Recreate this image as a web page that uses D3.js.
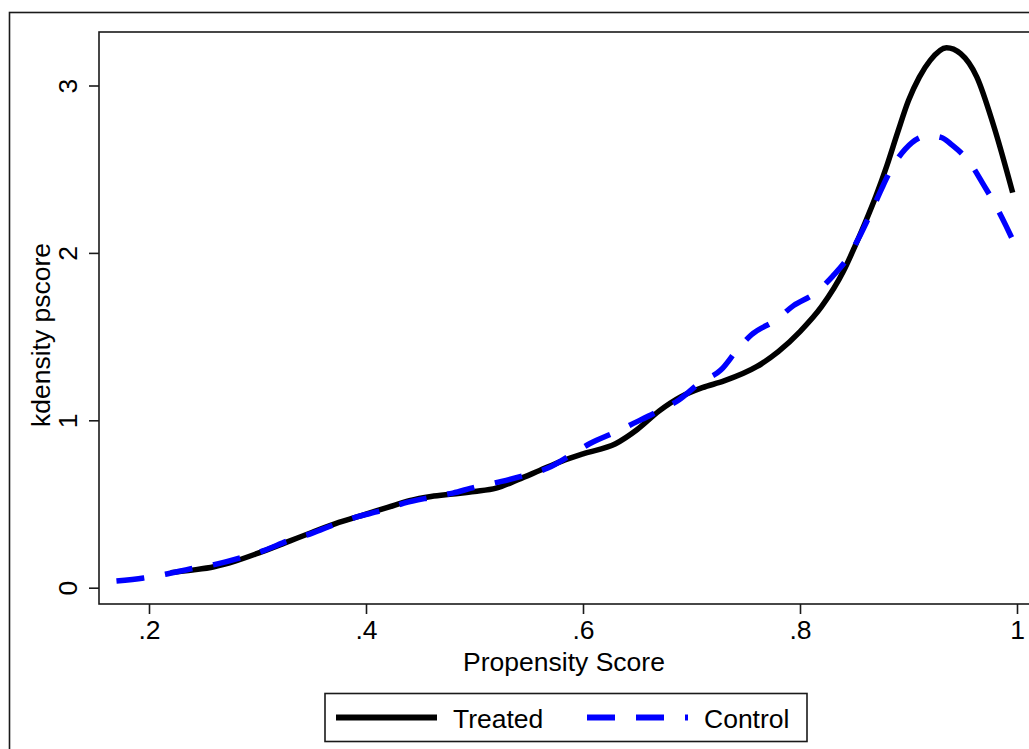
<!DOCTYPE html>
<html>
<head>
<meta charset="utf-8">
<script src="https://cdn.jsdelivr.net/npm/d3@7"></script>
<style>
  body { margin: 0; background: #fff; }
  text { font-family: "Liberation Sans", Arial, Helvetica, sans-serif; fill: #000; }
</style>
</head>
<body>
<svg width="1029" height="749"></svg>
<script>
// kernel density of propensity score
var treatedX = [0.22, 0.24, 0.26, 0.28, 0.30, 0.33, 0.35, 0.375, 0.40, 0.42, 0.44, 0.46, 0.48, 0.50, 0.52, 0.54, 0.56, 0.58, 0.60, 0.63, 0.65, 0.67, 0.69, 0.71, 0.73, 0.76, 0.78, 0.80, 0.82, 0.84, 0.85, 0.86, 0.87, 0.88, 0.89, 0.90, 0.91, 0.92, 0.935, 0.948, 0.963, 0.978, 0.996];
var treatedY = [0.09, 0.105, 0.125, 0.16, 0.205, 0.28, 0.33, 0.39, 0.44, 0.48, 0.52, 0.545, 0.56, 0.575, 0.595, 0.645, 0.70, 0.755, 0.80, 0.86, 0.945, 1.055, 1.14, 1.195, 1.235, 1.32, 1.41, 1.53, 1.68, 1.89, 2.03, 2.18, 2.34, 2.52, 2.72, 2.91, 3.05, 3.15, 3.225, 3.19, 3.05, 2.77, 2.36];

var controlX = [0.17, 0.195, 0.215, 0.24, 0.26, 0.285, 0.305, 0.33, 0.35, 0.372, 0.39, 0.415, 0.435, 0.46, 0.48, 0.50, 0.525, 0.547, 0.567, 0.588, 0.606, 0.63, 0.646, 0.671, 0.688, 0.709, 0.727, 0.742, 0.755, 0.778, 0.794, 0.814, 0.83, 0.845, 0.855, 0.866, 0.875, 0.884, 0.897, 0.918, 0.93, 0.94, 0.957, 0.968, 0.981, 0.99, 0.997];
var controlY = [0.04, 0.058, 0.08, 0.115, 0.138, 0.18, 0.22, 0.285, 0.325, 0.38, 0.42, 0.462, 0.505, 0.54, 0.565, 0.60, 0.635, 0.673, 0.713, 0.79, 0.86, 0.93, 0.98, 1.06, 1.12, 1.23, 1.30, 1.42, 1.51, 1.60, 1.685, 1.76, 1.86, 1.98, 2.10, 2.25, 2.38, 2.50, 2.62, 2.70, 2.69, 2.645, 2.535, 2.42, 2.275, 2.16, 2.065];

var xTicks = [0.2, 0.4, 0.6, 0.8, 1];
var xTickLabels = [".2", ".4", ".6", ".8", "1"];
var yTicks = [0, 1, 2, 3];

var svg = d3.select("svg");

var x = d3.scaleLinear().domain([0.2, 1]).range([149, 1017]);
var y = d3.scaleLinear().domain([0, 3]).range([587.7, 85.5]);

var plotLeft = 99, plotTop = 32, plotBottom = 604, plotRight = 1045;

// outer graph frame (runs off the right/bottom edge)
svg.append("rect")
    .attr("x", 9.5).attr("y", 12.5)
    .attr("width", 1040).attr("height", 760)
    .attr("fill", "none").attr("stroke", "#1a1a1a").attr("stroke-width", 1.6);

// plot region frame
svg.append("rect")
    .attr("x", plotLeft).attr("y", plotTop)
    .attr("width", plotRight - plotLeft).attr("height", plotBottom - plotTop)
    .attr("fill", "none").attr("stroke", "#1a1a1a").attr("stroke-width", 1.6);

// x axis
var xAxis = svg.append("g")
    .attr("transform", "translate(0," + plotBottom + ")")
    .call(d3.axisBottom(x).tickValues(xTicks)
        .tickFormat(function(d, i) { return xTickLabels[i]; })
        .tickSize(10).tickSizeOuter(0).tickPadding(6));
xAxis.select(".domain").remove();
xAxis.selectAll("line").attr("stroke", "#1a1a1a").attr("stroke-width", 1.6);
xAxis.selectAll("text").attr("font-size", 26.5).attr("font-family", null);

svg.append("text")
    .attr("x", x(0.6) - 19).attr("y", 671)
    .attr("text-anchor", "middle")
    .attr("font-size", 26.5)
    .text("Propensity Score");

// y axis, labels rotated like Stata
var yAxis = svg.append("g")
    .attr("transform", "translate(" + plotLeft + ",0)")
    .call(d3.axisLeft(y).tickValues(yTicks).tickFormat(d3.format("d"))
        .tickSize(10).tickSizeOuter(0));
yAxis.select(".domain").remove();
yAxis.selectAll("line").attr("stroke", "#1a1a1a").attr("stroke-width", 1.6);
yAxis.selectAll("text")
    .attr("font-size", 26.5).attr("font-family", null)
    .attr("x", null)
    .attr("text-anchor", "middle")
    .attr("transform", "translate(-31,0) rotate(-90)")
    .attr("y", 0).attr("dy", "0.35em");

svg.append("text")
    .attr("transform", "translate(50," + ((plotTop + plotBottom) / 2 + 17) + ") rotate(-90)")
    .attr("text-anchor", "middle")
    .attr("font-size", 26.5)
    .text("kdensity pscore");

// curves
var line = d3.line()
    .x(function(d) { return x(d[0]); })
    .y(function(d) { return y(d[1]); })
    .curve(d3.curveMonotoneX);

var treated = d3.zip(treatedX, treatedY);
var control = d3.zip(controlX, controlY);

svg.append("path")
    .datum(treated)
    .attr("d", line)
    .attr("fill", "none")
    .attr("stroke", "#000")
    .attr("stroke-width", 5.5);

svg.append("path")
    .datum(control)
    .attr("d", line)
    .attr("fill", "none")
    .attr("stroke", "#0000ff")
    .attr("stroke-width", 5.5)
    .attr("stroke-dasharray", "28,21");

// legend
var lg = svg.append("g");
lg.append("rect")
    .attr("x", 325).attr("y", 693.5)
    .attr("width", 482).attr("height", 48)
    .attr("fill", "#fff").attr("stroke", "#1a1a1a").attr("stroke-width", 1.6);

var legendItems = [
    { label: "Treated", color: "#000", dash: null, x0: 336, x1: 437, tx: 453 },
    { label: "Control", color: "#0000ff", dash: "28,21", x0: 587, x1: 688, tx: 704 }
];

legendItems.forEach(function(it) {
    lg.append("line")
        .attr("x1", it.x0).attr("x2", it.x1)
        .attr("y1", 717.5).attr("y2", 717.5)
        .attr("stroke", it.color).attr("stroke-width", 6)
        .attr("stroke-dasharray", it.dash);
    lg.append("text")
        .attr("x", it.tx).attr("y", 727.5)
        .attr("font-size", 26.5)
        .text(it.label);
});
</script>
</body>
</html>
